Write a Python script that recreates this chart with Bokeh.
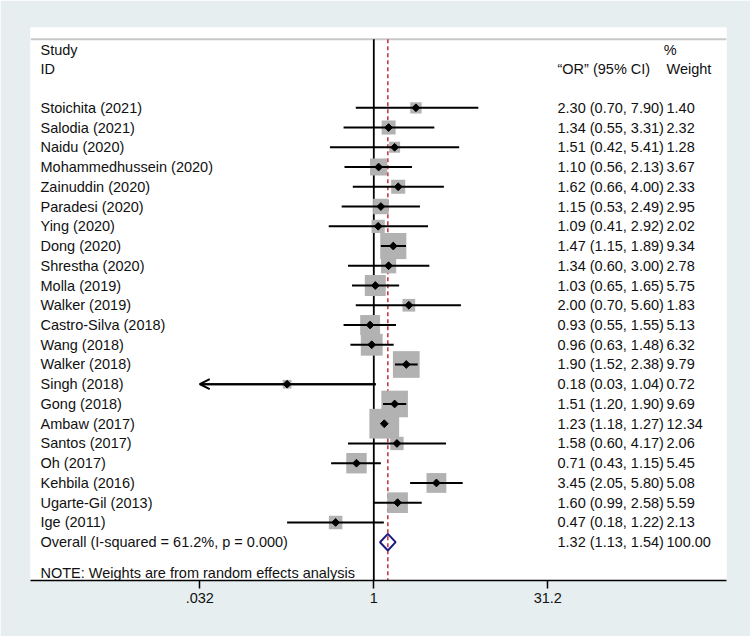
import math
from bokeh.plotting import figure
from bokeh.models import ColumnDataSource, Range1d, FixedTicker, CustomJSTickFormatter, Arrow, OpenHead
from bokeh.core.properties import value
from bokeh.embed import file_html
from bokeh.resources import INLINE

# ---------------- data ----------------
studies = ["Stoichita (2021)", "Salodia (2021)", "Naidu (2020)", "Mohammedhussein (2020)",
           "Zainuddin (2020)", "Paradesi (2020)", "Ying (2020)", "Dong (2020)",
           "Shrestha (2020)", "Molla (2019)", "Walker (2019)", "Castro-Silva (2018)",
           "Wang (2018)", "Walker (2018)", "Singh (2018)", "Gong (2018)", "Ambaw (2017)",
           "Santos (2017)", "Oh (2017)", "Kehbila (2016)", "Ugarte-Gil  (2013)", "Ige (2011)"]
odds = [2.30, 1.34, 1.51, 1.10, 1.62, 1.15, 1.09, 1.47, 1.34, 1.03, 2.00,
        0.93, 0.96, 1.90, 0.18, 1.51, 1.23, 1.58, 0.71, 3.45, 1.60, 0.47]
ci_low = [0.70, 0.55, 0.42, 0.56, 0.66, 0.53, 0.41, 1.15, 0.60, 0.65, 0.70,
          0.55, 0.63, 1.52, 0.03, 1.20, 1.18, 0.60, 0.43, 2.05, 0.99, 0.18]
ci_high = [7.90, 3.31, 5.41, 2.13, 4.00, 2.49, 2.92, 1.89, 3.00, 1.65, 5.60,
           1.55, 1.48, 2.38, 1.04, 1.90, 1.27, 4.17, 1.15, 5.80, 2.58, 1.22]
weights = [1.40, 2.32, 1.28, 3.67, 2.33, 2.95, 2.02, 9.34, 2.78, 5.75, 1.83,
           5.13, 6.32, 9.79, 0.72, 9.69, 12.34, 2.06, 5.45, 5.08, 5.59, 2.13]

overall_label = "Overall  (I-squared = 61.2%, p = 0.000)"
overall_or = 1.32
overall_low = 1.13
overall_high = 1.54
overall_weight = 100.00

tick_values = [0.032, 1, 31.2]
tick_labels = [".032", "1", "31.2"]

header_study = ["Study", "ID"]
header_ci = "\u201cOR\u201d (95% CI)"
header_weight = ["%", "Weight"]
note_text = "NOTE: Weights are from random effects analysis"

# ---------------- styling / layout ----------------
BG = "#e6eef0"
FONT = value("Liberation Sans")
FS = "14.5px"
TXT = "#111111"
SQUARE = "#b2b2b2"
RED = "#c03038"
NAVY = "#1c1c80"

FRAME_W, FRAME_H = 696, 553
PX_ONE = 343.3          # pixel offset of OR=1 from frame left
PX_PER_LN = 50.57

def x_at(px):
    return math.exp((px - PX_ONE) / PX_PER_LN)

x_start, x_end = x_at(0), x_at(FRAME_W)
ROW0, ROWH = 80.3, 19.745   # first row offset from frame top, row spacing
y_top = -ROW0 / ROWH
y_bottom = (FRAME_H - ROW0) / ROWH

n = len(studies)
rows = list(range(n))
overall_row = n

p = figure(width=750, height=636, output_backend="svg", toolbar_location=None,
           x_axis_type="log", y_axis_location=None,
           x_range=Range1d(x_start, x_end), y_range=Range1d(y_bottom, y_top),
           min_border_left=30, min_border_right=24, min_border_top=27, min_border_bottom=56)
p.background_fill_color = "white"
p.border_fill_color = BG
p.outline_line_color = None
p.xgrid.visible = False
p.ygrid.visible = False

# x axis
p.xaxis.ticker = FixedTicker(ticks=tick_values)
p.xaxis.formatter = CustomJSTickFormatter(args=dict(vals=tick_values, labels=tick_labels), code="""
    for (let i = 0; i < vals.length; i++) {
        if (Math.abs(vals[i] - tick) < 1e-6 * Math.max(1, vals[i])) return labels[i];
    }
    return "";
""")
p.xaxis.axis_line_color = "black"
p.xaxis.axis_line_width = 1.5
p.xaxis.major_tick_in = 0
p.xaxis.major_tick_out = 8
p.xaxis.major_tick_line_width = 1.5
p.xaxis.minor_tick_line_color = None
p.xaxis.major_label_standoff = 4
p.xaxis.major_label_text_font = "Liberation Sans"
p.xaxis.major_label_text_font_size = FS
p.xaxis.major_label_text_color = TXT

sep_y = (11.7 - ROW0) / ROWH

# header separator
p.segment(x0=[x_start], x1=[x_end], y0=[sep_y], y1=[sep_y], line_color="#c8c8c8", line_width=2)

# reference lines
p.segment(x0=[1], x1=[1], y0=[sep_y], y1=[y_bottom], line_color="black", line_width=1.8)
p.segment(x0=[overall_or], x1=[overall_or], y0=[sep_y], y1=[y_bottom],
          line_color=RED, line_width=1.5, line_dash="4 3")

# weight squares
sizes = [2 + 7.9 * math.sqrt(w) for w in weights]
src = ColumnDataSource(dict(y=rows, odds=odds, lo=ci_low, hi=ci_high, size=sizes,
                            lo_draw=[max(l, tick_values[0]) for l in ci_low],
                            hi_draw=[min(h, tick_values[-1]) for h in ci_high],
                            study=studies,
                            ci=[f"{o:.2f} ({l:.2f}, {h:.2f})" for o, l, h in zip(odds, ci_low, ci_high)],
                            wt=[f"{w:.2f}" for w in weights]))
p.scatter(x="odds", y="y", size="size", marker="square", source=src,
          fill_color=SQUARE, line_color=None)

# CI lines
p.segment(x0="lo_draw", x1="hi_draw", y0="y", y1="y", source=src, line_color="black", line_width=2)
for r, l, h in zip(rows, ci_low, ci_high):
    if l < tick_values[0]:
        p.add_layout(Arrow(end=OpenHead(size=10, line_width=2, line_color="black"),
                           x_start=min(h, tick_values[-1]), y_start=r,
                           x_end=tick_values[0], y_end=r,
                           line_width=2, line_color="black"))

# point estimates
p.scatter(x="odds", y="y", size=5.5, marker="square", angle=math.pi / 4, source=src,
          fill_color="black", line_color="black")

# overall diamond
p.patch(x=[overall_low, overall_or, overall_high, overall_or],
        y=[overall_row, overall_row - 0.42, overall_row, overall_row + 0.42],
        fill_alpha=0, line_color=NAVY, line_width=2)

# texts
x_label = x_at(10)
x_ci = x_at(527)
x_wt = x_at(636)
tkw = dict(text_font=FONT, text_font_size=FS, text_color=TXT, text_baseline="middle", text_align="left")

p.text(x=[x_label] * n, y=rows, text=studies, **tkw)
p.text(x=[x_ci] * n, y=rows, text=src.data["ci"], **tkw)
p.text(x=[x_wt] * n, y=rows, text=src.data["wt"], **tkw)

p.text(x=[x_label], y=[overall_row], text=[overall_label], **tkw)
p.text(x=[x_ci], y=[overall_row], text=[f"{overall_or:.2f} ({overall_low:.2f}, {overall_high:.2f})"], **tkw)
p.text(x=[x_wt], y=[overall_row], text=[f"{overall_weight:.2f}"], **tkw)

hy1, hy2 = -2.94, -1.975
p.text(x=[x_label, x_label], y=[hy1, hy2], text=header_study, **tkw)
p.text(x=[x_ci], y=[hy2], text=[header_ci], **tkw)
p.text(x=[x_at(633.3), x_wt], y=[hy1, hy2], text=header_weight, **tkw)

p.text(x=[x_label], y=[23.55], text=[note_text], **tkw)

html = file_html(p, INLINE, title="Forest plot")
html = html.replace("<body>", '<body style="margin:0;overflow:hidden;background:%s">' % BG, 1)
open("out.html", "w").write(html)
